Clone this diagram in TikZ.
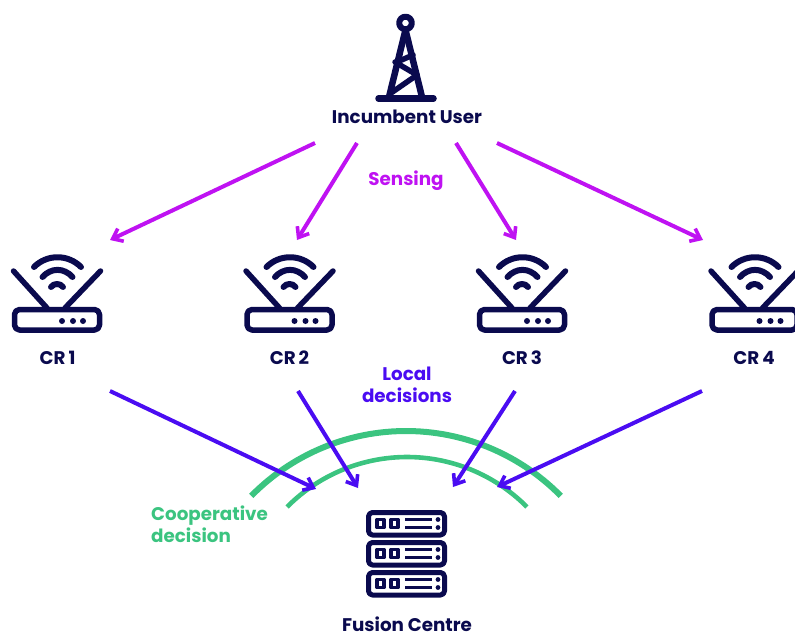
\documentclass[tikz,border=0pt]{standalone}
\usepackage{fontspec}
\setmainfont{Poppins}[BoldFont=Poppins Bold]
\usetikzlibrary{arrows.meta}
\definecolor{navy}{HTML}{0A0A4E}
\definecolor{senscol}{HTML}{BF12F2}
\definecolor{localcol}{HTML}{4A0CF2}
\definecolor{greencol}{HTML}{3BC480}
\tikzset{
  icon/.style={draw=navy,line cap=round,line join=round},
  lbl/.style={font=\bfseries\fontsize{18.3}{22}\selectfont,inner sep=0pt,text=navy,align=center},
  senslink/.style={draw=senscol,line width=4pt,-{Straight Barb[length=9pt,width=14pt,line width=3.6pt]}},
  locallink/.style={draw=localcol,line width=4pt,-{Straight Barb[length=9pt,width=14pt,line width=3.6pt]}},
  band/.style={draw=greencol,line cap=butt},
}
\newcommand{\routericon}[1]{%
  \begin{scope}[shift={(#1,0)}]
    \draw[icon,line width=5.5pt,rounded corners=5pt] (14.5,309.5) rectangle (99.5,330);
    \draw[icon,line width=5.5pt] (13.5,271) -- (47,308);
    \draw[icon,line width=5.5pt] (100.5,271) -- (65,308);
    \fill[navy] (62,321) circle (3) (73,321) circle (3) (83,321) circle (3);
    \draw[icon,line width=6pt] (34,267) .. controls (47,254) and (68,254) .. (81,267);
    \draw[icon,line width=6pt] (42.5,277) .. controls (51,267.5) and (64,267.5) .. (72.5,277);
    \draw[icon,line width=6pt] (51,287) .. controls (54,283) and (60,283) .. (63,287);
  \end{scope}}
\newcommand{\serverunit}[1]{%
  \begin{scope}[shift={(0,#1)}]
    \draw[icon,line width=5pt,rounded corners=4pt] (368.5,512.5) rectangle (444.5,535);
    \draw[icon,line width=3.2pt,line cap=butt] (377,519.5) rectangle (384,527.5);
    \draw[icon,line width=3.2pt,line cap=butt] (391,519.5) rectangle (398,527.5);
    \draw[icon,line width=3pt,line cap=butt] (405,519.5) -- (432,519.5);
    \draw[icon,line width=3pt,line cap=butt] (405,527.5) -- (432,527.5);
    \fill[navy] (438,519.5) circle (2.4) (438,527.5) circle (2.4);
  \end{scope}}
\begin{document}
\begin{tikzpicture}[x=1pt,y=-1pt]
\useasboundingbox (0,0) rectangle (795,634);
% tower
\draw[icon,line width=6pt] (405.5,23) circle (6.3);
\draw[icon,line width=6.5pt] (405,32) -- (389,97);
\draw[icon,line width=6.5pt] (406,32) -- (422,97);
\draw[icon,line width=5.5pt] (397,62) -- (413,55);
\draw[icon,line width=5.5pt] (395,62) -- (417,75);
\draw[icon,line width=5.5pt] (417,75) -- (391,93);
\draw[icon,line width=6.5pt] (378.5,98.5) -- (433.5,98.5);
% routers
\routericon{0}\routericon{232.5}\routericon{465}\routericon{697.5}
% server
\serverunit{0}\serverunit{30}\serverunit{60}
% green arcs
\draw[band,line width=6pt] plot[domain=135.5:44.5,samples=60] ({406+217*cos(\x)},{648-217*sin(\x)});
\draw[band,line width=4.6pt] plot[domain=135.2:44.8,samples=60] ({407+169*cos(\x)},{626-169*sin(\x)});
% labels
\node[lbl] (iu) at (407,117) {Incumbent User};
\node[lbl] (cr1) at (57.5,358) {CR\,1};
\node[lbl] (cr2) at (289.5,358) {CR\,2};
\node[lbl] (cr3) at (522,358) {CR\,3};
\node[lbl] (cr4) at (754,358) {CR\,4};
\node[lbl] (fc) at (407,624.5) {Fusion Centre};
\node[lbl,text=senscol] (sens) at (406,181) {Sensing};
\node[lbl,text=localcol] (locd) at (407,385) {Local\\decisions};
\node[lbl,text=greencol,align=left,anchor=west] (coop) at (151,524) {Cooperative\\decision};
% connector ends
\coordinate (s1a) at (315,143); \coordinate (s1b) at (110,240);
\coordinate (s2a) at (357,143); \coordinate (s2b) at (297,240);
\coordinate (s3a) at (456,143); \coordinate (s3b) at (516,240);
\coordinate (s4a) at (497,143); \coordinate (s4b) at (703,240);
\coordinate (l1a) at (110,391); \coordinate (l1b) at (316,489);
\coordinate (l2a) at (298,391); \coordinate (l2b) at (358,488);
\coordinate (l3a) at (515,391); \coordinate (l3b) at (453,487);
\coordinate (l4a) at (702,391); \coordinate (l4b) at (497,487);
\draw[senslink] (s1a) -- (s1b);
\draw[senslink] (s2a) -- (s2b);
\draw[senslink] (s3a) -- (s3b);
\draw[senslink] (s4a) -- (s4b);
\draw[locallink] (l1a) -- (l1b);
\draw[locallink] (l2a) -- (l2b);
\draw[locallink] (l3a) -- (l3b);
\draw[locallink] (l4a) -- (l4b);
\end{tikzpicture}
\end{document}
